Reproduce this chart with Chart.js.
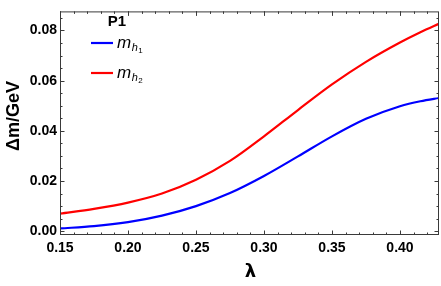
<!DOCTYPE html>
<html>
<head>
<meta charset="utf-8">
<script src="https://cdn.jsdelivr.net/npm/chart.js@4.4.1/dist/chart.umd.min.js"></script>
<style>
  html, body { margin: 0; padding: 0; background: #fff; }
  #wrap { width: 441px; height: 286px; position: relative; }
</style>
</head>
<body>
<div id="wrap"><canvas id="c" width="441" height="286"></canvas></div>
<script>
// ---- data ----
const lambdaValues = [0.15, 0.175, 0.20, 0.225, 0.25, 0.275, 0.30, 0.325, 0.35, 0.375, 0.40, 0.415, 0.43];
const mh1Values    = [0.0011, 0.0020, 0.0036, 0.0062, 0.0100, 0.0152, 0.0220, 0.0298, 0.0378, 0.0448, 0.0498, 0.0518, 0.0532];
const mh2Values    = [0.0070, 0.0089, 0.0114, 0.0150, 0.0205, 0.0280, 0.0378, 0.0483, 0.0585, 0.0675, 0.0752, 0.0793, 0.0830];
const xTickValues  = [0.15, 0.20, 0.25, 0.30, 0.35, 0.40];
const yTickValues  = [0.00, 0.02, 0.04, 0.06, 0.08];
const xMinorStep = 0.01, yMinorStep = 0.005;
const legendTitle = 'P1';
const seriesNames = [['m', 'h', '1'], ['m', 'h', '2']];
const xTitle = 'λ';
const yTitle = 'Δm/GeV';

const FONT = '"Liberation Sans", Arial, sans-serif';
const FRAME = '#3a3a3a';

function toPoints(xs, ys) { return xs.map((x, i) => ({ x: x, y: ys[i] })); }

const framePlugin = {
  id: 'frameTicks',
  afterDraw(chart) {
    const ctx = chart.ctx, a = chart.chartArea;
    const xs = chart.scales.x, ys = chart.scales.y;
    ctx.save();
    ctx.strokeStyle = FRAME;
    ctx.lineWidth = 1;
    ctx.strokeRect(a.left + 0.5, a.top + 0.5, a.right - a.left - 1, a.bottom - a.top - 1);
    const drawX = (v, len) => {
      const p = Math.round(xs.getPixelForValue(v)) + 0.5;
      if (p < a.left || p > a.right) return;
      ctx.beginPath();
      ctx.moveTo(p, a.bottom); ctx.lineTo(p, a.bottom - len);
      ctx.moveTo(p, a.top); ctx.lineTo(p, a.top + len);
      ctx.stroke();
    };
    const drawY = (v, len) => {
      const p = Math.round(ys.getPixelForValue(v)) + 0.5;
      if (p < a.top || p > a.bottom) return;
      ctx.beginPath();
      ctx.moveTo(a.left, p); ctx.lineTo(a.left + len, p);
      ctx.moveTo(a.right, p); ctx.lineTo(a.right - len, p);
      ctx.stroke();
    };
    for (let k = 0; ; k++) {
      const v = +(0.14 + k * xMinorStep).toFixed(4);
      if (v > xs.max) break;
      drawX(v, 2.5);
    }
    xTickValues.forEach(v => drawX(v, 4.5));
    for (let k = 0; ; k++) {
      const v = +(-0.005 + k * yMinorStep).toFixed(4);
      if (v > ys.max) break;
      drawY(v, 2.5);
    }
    yTickValues.forEach(v => drawY(v, 4.5));

    // axis titles
    ctx.fillStyle = '#000';
    ctx.textAlign = 'center';
    ctx.textBaseline = 'middle';
    ctx.font = 'bold 18px "DejaVu Sans", ' + FONT;
    ctx.fillText(xTitle, (a.left + a.right) / 2 + 1, 272);
    ctx.save();
    ctx.translate(14, 116);
    ctx.rotate(-Math.PI / 2);
    ctx.font = 'bold 18px ' + FONT;
    ctx.fillText(yTitle, 0, 0);
    ctx.restore();

    // legend
    ctx.font = 'bold 15px ' + FONT;
    ctx.textBaseline = 'alphabetic';
    ctx.fillText(legendTitle, 117, 26);
    const rows = [{ y: 43, color: chart.data.datasets[0].borderColor, name: seriesNames[0] },
                  { y: 73, color: chart.data.datasets[1].borderColor, name: seriesNames[1] }];
    rows.forEach(r => {
      ctx.strokeStyle = r.color;
      ctx.lineWidth = 2.2;
      ctx.beginPath(); ctx.moveTo(91, r.y); ctx.lineTo(113, r.y); ctx.stroke();
      ctx.textAlign = 'left';
      ctx.fillStyle = '#000';
      ctx.font = 'italic 17px ' + FONT;
      ctx.fillText(r.name[0], 117, r.y + 5);
      const w = ctx.measureText(r.name[0]).width;
      ctx.font = 'italic 11px ' + FONT;
      ctx.fillText(r.name[1], 117 + w + 0.5, r.y + 8);
      const w2 = ctx.measureText(r.name[1]).width;
      ctx.font = '8px ' + FONT;
      ctx.fillText(r.name[2], 117 + w + w2 + 1, r.y + 10);
    });
    ctx.restore();
  }
};

new Chart(document.getElementById('c'), {
  type: 'line',
  data: {
    datasets: [
      { label: 'mh1', data: toPoints(lambdaValues, mh1Values), borderColor: '#0000ff', borderWidth: 2.2,
        pointRadius: 0, fill: false, cubicInterpolationMode: 'monotone' },
      { label: 'mh2', data: toPoints(lambdaValues, mh2Values), borderColor: '#ff0000', borderWidth: 2.2,
        pointRadius: 0, fill: false, cubicInterpolationMode: 'monotone' }
    ]
  },
  options: {
    responsive: false,
    animation: false,
    devicePixelRatio: 1,
    layout: { padding: { top: 1, right: 2, left: 0, bottom: 0 } },
    plugins: { legend: { display: false }, tooltip: { enabled: false } },
    scales: {
      x: {
        type: 'linear', min: 0.15, max: 0.4287,
        afterBuildTicks: s => { s.ticks = xTickValues.map(v => ({ value: v })); },
        afterFit: s => { s.height = 51; },
        grid: { display: false, drawTicks: false },
        border: { display: false },
        ticks: { padding: 5, color: '#000', font: { family: FONT, weight: 'bold', size: 14 },
                 maxRotation: 0, autoSkip: false, callback: v => Number(v).toFixed(2) }
      },
      y: {
        type: 'linear', min: -0.00152, max: 0.0876,
        afterBuildTicks: s => { s.ticks = yTickValues.map(v => ({ value: v })); },
        afterFit: s => { s.width = 60; },
        grid: { display: false, drawTicks: false },
        border: { display: false },
        ticks: { padding: 3, color: '#000', font: { family: FONT, weight: 'bold', size: 14 },
                 autoSkip: false, callback: v => Number(v).toFixed(2) }
      }
    }
  },
  plugins: [framePlugin]
});
</script>
</body>
</html>
